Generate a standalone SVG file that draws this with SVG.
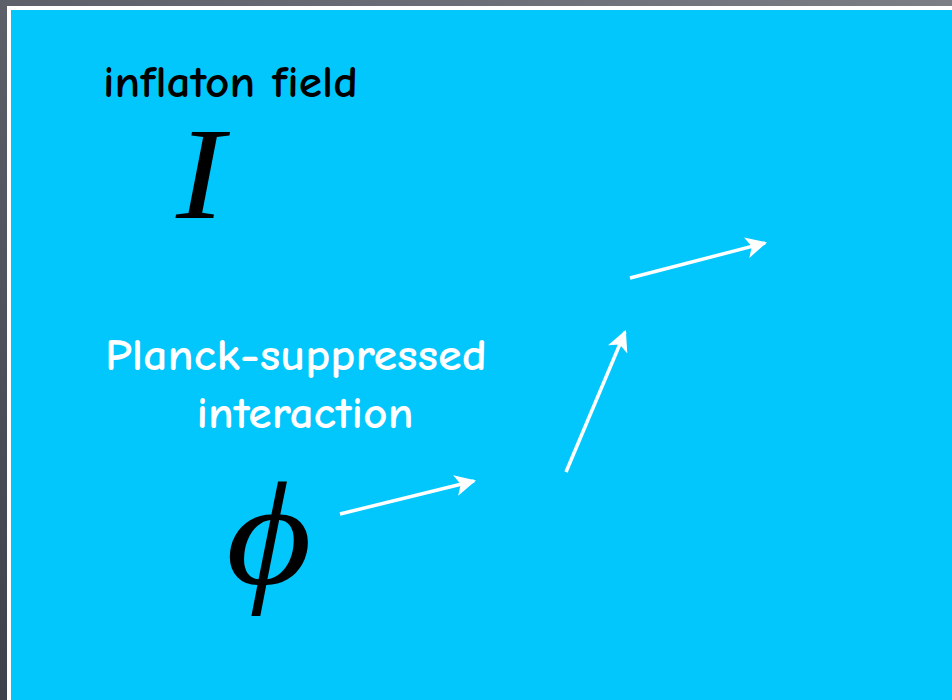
<svg xmlns="http://www.w3.org/2000/svg" width="952" height="700" viewBox="0 0 952 700">
<defs>
<linearGradient id="bg" x1="0" y1="1" x2="1" y2="0">
<stop offset="0" stop-color="#3e404c"/>
<stop offset="1" stop-color="#7c7e86"/>
</linearGradient>
<marker id="ah" viewBox="0 0 10 10" refX="9" refY="5" markerWidth="6" markerHeight="6" markerUnits="strokeWidth" orient="auto">
<path d="M0,0 L10,5 L0,10 L2.5,5 Z" fill="#fff"/>
</marker>
<style>
.lbl{font-family:"Comic Neue","Liberation Sans","DejaVu Sans",sans-serif;font-size:44px;font-weight:bold}
.math{font-family:"Liberation Serif","DejaVu Serif",serif;font-style:italic;fill:#000}
.arr{stroke:#fff;stroke-width:3.5;fill:none;marker-end:url(#ah)}
</style>
</defs>
<rect x="0" y="0" width="952" height="700" fill="url(#bg)"/>
<rect x="7" y="6" width="945" height="694" fill="#fff"/>
<rect x="11" y="10" width="941" height="690" fill="#02c7fc"/>
<g id="inflaton">
<text class="lbl" x="103" y="97" fill="#000" textLength="255" lengthAdjust="spacingAndGlyphs">inflaton field</text>
<text class="math" x="176" y="218" font-size="132" transform="translate(176 0) scale(1.1 1) translate(-176 0)">I</text>
</g>
<g id="planck">
<text class="lbl" x="296" y="370" fill="#fff" text-anchor="middle" textLength="382" lengthAdjust="spacingAndGlyphs">Planck-suppressed</text>
<text class="lbl" x="305" y="428" fill="#fff" text-anchor="middle" textLength="217" lengthAdjust="spacingAndGlyphs">interaction</text>
</g>
<g id="phi">
<text class="math" x="226" y="584" font-size="148" transform="translate(226 0) scale(1.12 1) translate(-226 0)">ϕ</text>
</g>
<g id="connectors">
<line class="arr" x1="340" y1="514" x2="474" y2="481"/>
<line class="arr" x1="566" y1="472" x2="625" y2="332"/>
<line class="arr" x1="630" y1="278" x2="765" y2="243"/>
</g>
</svg>
